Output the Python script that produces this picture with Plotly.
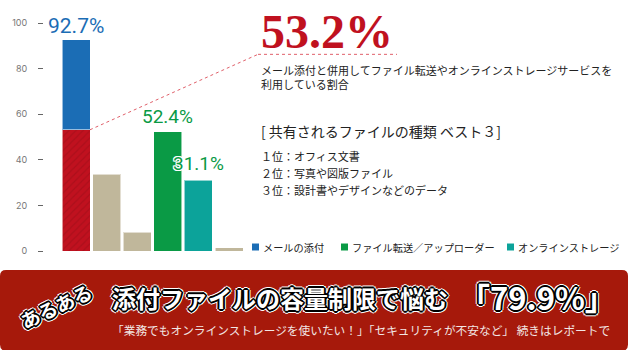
import plotly.graph_objects as go

# ---- data ----
bar_index = [0, 1, 2, 3, 4, 5]
mail_total = 92.7          # メールの添付 (total)
mail_with_other = 53.2     # 併用している割合
beige_x = [1, 2, 5]
beige_vals = [33.7, 8.2, 1.5]
transfer_x = [3]
transfer_vals = [52.4]
storage_x = [4]
storage_vals = [31.1]
y_ticks = [0, 20, 40, 60, 80, 100]
legend_labels = ["メールの添付", "ファイル転送／アップローダー", "オンラインストレージ"]
top3 = ["１位：オフィス文書", "２位：写真や図版ファイル", "３位：設計書やデザインなどのデータ"]

BLUE = "#1b6db5"
RED = "#c0111f"
BEIGE = "#c0b79b"
GREEN = "#0a9a45"
TEAL = "#0ca39a"
BANNER = "#a6190b"

W, H = 630, 350
ML, MR, MT, MB = 44, 10, 13.6, 99
PW = W - ML - MR
PH = H - MT - MB
STEP = 30.6  # px per category
x0 = -(76 - ML) / STEP
XR = [x0, x0 + PW / STEP]
YR = [0, 104]


def px(x):
    return (x - ML) / PW


def py(y):
    return (H - MB - y) / PH


def dx(xp):
    return XR[0] + (xp - ML) / STEP


def dy(yp):
    return (H - MB - yp) / PH * YR[1]


edge = dict(color="rgba(255,255,255,0.55)", width=1)
fig = go.Figure()
fig.add_bar(x=[0], y=[mail_with_other], marker=dict(color=RED, line=edge,
            pattern=dict(shape="/", bgcolor=RED, fgcolor="#9a0d18", size=5, solidity=0.25)),
            showlegend=False)
fig.add_bar(x=[0], y=[mail_total - mail_with_other], marker=dict(color=BLUE, line=edge), showlegend=False)
fig.add_bar(x=beige_x, y=beige_vals, marker=dict(color=BEIGE, line=edge), showlegend=False)
fig.add_bar(x=transfer_x, y=transfer_vals, marker=dict(color=GREEN, line=edge), showlegend=False)
fig.add_bar(x=storage_x, y=storage_vals, marker=dict(color=TEAL, line=edge), showlegend=False)

fig.update_layout(
    width=W, height=H, margin=dict(l=ML, r=MR, t=MT, b=MB),
    paper_bgcolor="white", plot_bgcolor="white",
    barmode="stack", bargap=0.085,
    xaxis=dict(range=XR, visible=False, fixedrange=True),
    yaxis=dict(range=YR, tickvals=y_ticks, ticks="outside", ticklen=5, tickcolor="#666",
               ticklabelstandoff=9, showgrid=False, zeroline=False, showline=False,
               tickfont=dict(family="Inter, Roboto, sans-serif", size=9, color="#777")),
    showlegend=False,
)


def outlined(text, font, rings, sx=0, sy=0, **kw):
    """Add text with outline rings drawn as offset copies underneath."""
    for rad, col in rings:
        d = max(1, round(rad * 0.7))
        offs = [(rad, 0), (-rad, 0), (0, rad), (0, -rad), (d, d), (-d, d), (d, -d), (-d, -d)]
        for a, b in offs:
            f = dict(font)
            f["color"] = col
            fig.add_annotation(text=text, font=f, xshift=sx + a, yshift=sy + b, showarrow=False, **kw)
    fig.add_annotation(text=text, font=font, xshift=sx, yshift=sy, showarrow=False, **kw)


lab_font = "Roboto, Inter, sans-serif"
fig.add_annotation(x=0, y=mail_total, text=f"{mail_total}%", showarrow=False, yanchor="bottom",
                   font=dict(family=lab_font, size=21, color=BLUE))
fig.add_annotation(x=3, y=transfer_vals[0], text=f"{transfer_vals[0]}%", showarrow=False, yanchor="bottom", yshift=2,
                   font=dict(family=lab_font, size=19, color=GREEN))
outlined(f"{storage_vals[0]}%", dict(family=lab_font, size=19, color=GREEN), [(1, "white")],
         sy=3, x=4, y=storage_vals[0], yanchor="bottom")

# dashed leader line
fig.add_shape(type="line", xref="x", yref="y", x0=0 + (1 - 0.085) / 2, y0=mail_with_other,
              x1=dx(258), y1=dy(54), line=dict(color="#e0606a", width=1, dash="dot"))
fig.add_shape(type="line", xref="x", yref="y", x0=dx(258), y0=dy(54),
              x1=dx(397), y1=dy(54), line=dict(color="#e0606a", width=1, dash="dot"))

serif = "Liberation Serif, DejaVu Serif, serif"
jp = "Noto Sans CJK JP, sans-serif"
fig.add_annotation(xref="paper", yref="paper", x=px(259), y=py(31), xanchor="left", yanchor="middle",
                   text=f"<b>{mail_with_other}%</b>", showarrow=False,
                   font=dict(family=serif, size=48, color=RED))
for i, t in enumerate(["メール添付と併用してファイル転送やオンラインストレージサービスを", "利用している割合"]):
    fig.add_annotation(xref="paper", yref="paper", x=px(259), y=py(70 + i * 13.5), xanchor="left",
                       yanchor="middle", align="left", showarrow=False, text=t,
                       font=dict(family=jp, size=11, color="#222"))
fig.add_annotation(xref="paper", yref="paper", x=px(259), y=py(131), xanchor="left", yanchor="middle",
                   align="left", showarrow=False, text="[ 共有されるファイルの種類 ベスト３]",
                   font=dict(family=jp, size=14, color="#222"))
for i, t in enumerate(top3):
    fig.add_annotation(xref="paper", yref="paper", x=px(259), y=py(156 + i * 17), xanchor="left",
                       yanchor="middle", align="left", showarrow=False, text=t,
                       font=dict(family=jp, size=11, color="#222"))

# legend
leg_colors = [BLUE, GREEN, TEAL]
leg_x = [252, 341, 507]
for lx, c, t in zip(leg_x, leg_colors, legend_labels):
    fig.add_shape(type="rect", xref="paper", yref="paper", x0=px(lx), x1=px(lx + 7),
                  y0=py(250.5), y1=py(243.5), fillcolor=c, line=dict(width=0))
    fig.add_annotation(xref="paper", yref="paper", x=px(lx + 9), y=py(247), xanchor="left", yanchor="middle",
                       showarrow=False, text=t, font=dict(family=jp, size=10.2, color="#222"))

# banner
bx0, bx1, by0, by1, r = 0, 628, 270, 351, 6
path = (f"M {px(bx0)},{py(by0 + r)} Q {px(bx0)},{py(by0)} {px(bx0 + r)},{py(by0)} "
        f"L {px(bx1 - r)},{py(by0)} Q {px(bx1)},{py(by0)} {px(bx1)},{py(by0 + r)} "
        f"L {px(bx1)},{py(by1 - r)} Q {px(bx1)},{py(by1)} {px(bx1 - r)},{py(by1)} "
        f"L {px(bx0 + r)},{py(by1)} Q {px(bx0)},{py(by1)} {px(bx0)},{py(by1 - r)} Z")
fig.add_shape(type="path", xref="paper", yref="paper", path=path, fillcolor=BANNER, line=dict(width=0))

rings = [(3, "white"), (2, "black")]
outlined("<b>あるある</b>", dict(family=jp, size=19, color="white"), rings,
         xref="paper", yref="paper", x=px(56), y=py(306), textangle=-25, xanchor="center", yanchor="middle")
outlined("<b>添付ファイルの容量制限で悩む</b>", dict(family=jp, size=24, color="white"), rings,
         xref="paper", yref="paper", x=px(110), y=py(298), xanchor="left", yanchor="middle")
outlined("<b>「79.9%」</b>", dict(family=jp, size=31, color="white"), rings,
         xref="paper", yref="paper", x=px(457), y=py(297), xanchor="left", yanchor="middle")
fig.add_annotation(xref="paper", yref="paper", x=px(110), y=py(330), xanchor="left", yanchor="middle",
                   showarrow=False,
                   text="「業務でもオンラインストレージを使いたい！」「セキュリティが不安など」 続きはレポートで",
                   font=dict(family=jp, size=11.7, color="#f2e6e4"))

fig.write_html("out.html")
